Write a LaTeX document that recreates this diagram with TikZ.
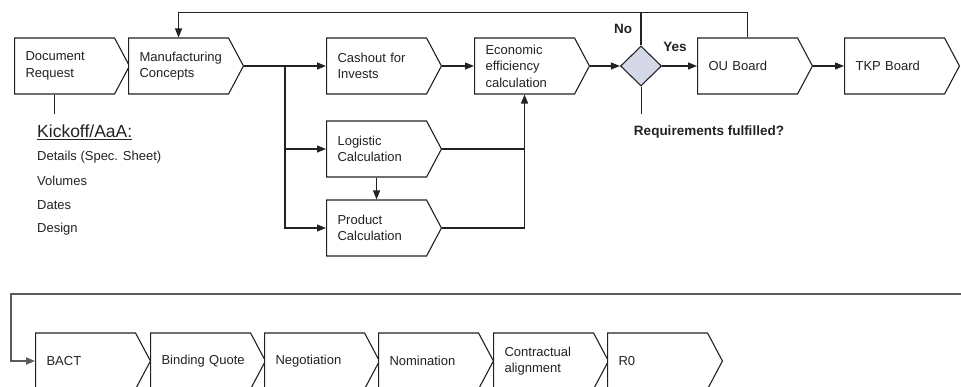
\documentclass[tikz,border=0pt]{standalone}
\usepackage{fontspec}
\setmainfont{Liberation Sans}
\usetikzlibrary{shapes.symbols,shapes.geometric,arrows.meta,calc}
\definecolor{ink}{HTML}{222222}
\definecolor{loopgray}{HTML}{5A5A5A}
\definecolor{decfill}{HTML}{D5D8E6}
\begin{document}
\begin{tikzpicture}[x=1pt,y=-1pt,
  every node/.style={font=\fontsize{13}{16.5}\selectfont, text=ink},
  stepbox/.style={signal, signal from=nowhere, signal to=east,
    signal pointer angle=124, draw=ink, line width=1.1pt, fill=white,
    minimum height=56pt, text width=78pt, inner xsep=11pt, inner ysep=2pt,
    align=left, anchor=west},
  decision/.style={diamond, draw=ink, line width=1.1pt, fill=decfill,
    minimum width=41pt, minimum height=40pt, inner sep=0pt},
  flow/.style={draw=ink, line width=1.2pt},
  arr/.style={flow, -{Triangle[length=9pt,width=7pt]}},
  lbl/.style={font=\fontsize{13.5}{16}\selectfont\bfseries},
  listitem/.style={anchor=west, inner sep=0pt}]
\useasboundingbox (0,0) rectangle (961,387);
\clip (0,0) rectangle (961,387);

% upper process row
\node[stepbox] (doc)  at (14,66)  {Document\\Request};
\node[stepbox] (manu) at (128,66) {Manufacturing\\Concepts};
\node[stepbox] (cash) at (326,66) {Cashout for\\Invests};
\node[stepbox] (econ) at (474,66) {Economic\\efficiency\\calculation};
\node[stepbox] (logi) at (326,149) {Logistic\\Calculation};
\node[stepbox] (prod) at (326,228) {Product\\Calculation};
\node[decision] (dec) at (641,66) {};
\node[stepbox] (ou)   at (697,66) {OU Board};
\node[stepbox] (tkp)  at (844,66) {TKP Board};

% lower process row
\node[stepbox] (bact)  at (35,361)  {BACT};
\node[stepbox] (bind)  at (150,361) {Binding~Quote};
\node[stepbox] (nego)  at (264,361) {Negotiation};
\node[stepbox] (nomi)  at (378,361) {Nomination};
\node[stepbox] (cont)  at (493,361) {Contractual\\alignment};
\node[stepbox] (rzero) at (607,361) {R0};

% labels
\node[lbl] (no)  at (623,29) {No};
\node[lbl] (yes) at (675,47) {Yes};
\node[lbl] (req) at (709,132) {Requirements fulfilled?};
\node[listitem, font=\fontsize{17.5}{20}\selectfont] (kick) at (37,132) {\underline{Kickoff/AaA:}};
\node[listitem] (det) at (37,157) {Details (Spec. Sheet)};
\node[listitem] (vol) at (37,181) {Volumes};
\node[listitem] (dat) at (37,205) {Dates};
\node[listitem] (des) at (37,229) {Design};

% connectors
\coordinate (br) at (285,66);
\draw[arr] (manu.east) -- (cash.west);
\draw[arr] (br) |- (logi.west);
\draw[arr] (br) |- (prod.west);
\draw[arr] (cash.east) -- (econ.west);
\draw[arr] (logi.south) -- (logi.south |- prod.north);
\draw[flow] (logi.east) -- (logi.east -| econ.south);
\draw[arr] (prod.east) -| (econ.south);
\draw[arr] (econ.east) -- (dec.west);
\draw[arr] (dec.east) -- (ou.west);
\draw[arr] (ou.east) -- (tkp.west);

% feedback loop over the top
\coordinate (loopcorner) at ($(ou.north)+(0,-25)$);
\draw[arr] (ou.north) -- (loopcorner) -| (manu.north);
\draw[flow] (dec.north) -- (dec.north |- loopcorner);

% short stubs toward the labels
\draw[flow, line width=1pt] ($(doc.south west)+(40,0)$) -- ++(0,19);
\draw[flow, line width=1pt] (dec.south) -- ++(0,27);

% return line into the lower row
\coordinate (loopin) at (975,294);
\coordinate (loopleft) at (11,294);
\draw[flow, draw=loopgray, line width=1.5pt, -{Triangle[length=9pt,width=7pt]}]
  (loopin) -- (loopleft) |- (bact.west);
\end{tikzpicture}
\end{document}
